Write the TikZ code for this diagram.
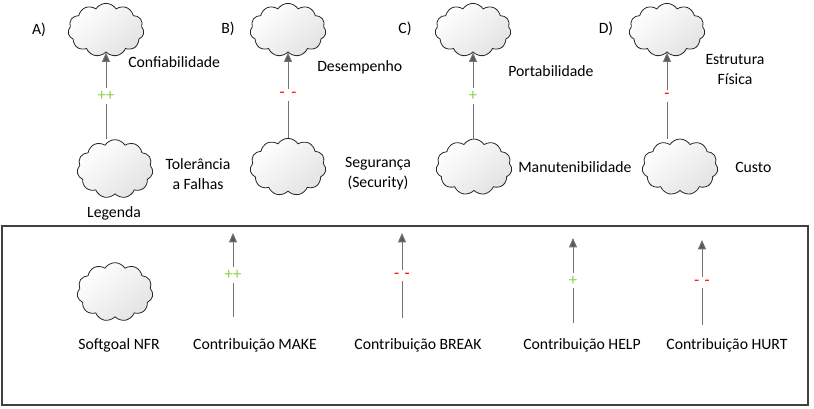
\documentclass[tikz,border=0pt]{standalone}
\usepackage{fontspec}
\setmainfont{Carlito}
\usetikzlibrary{shapes.symbols,arrows.meta}
\definecolor{makeGreen}{HTML}{92D050}
\definecolor{breakRed}{HTML}{FF0000}
\definecolor{arrowGray}{HTML}{595959}

\begin{document}
\begin{tikzpicture}[x=0.75pt, y=-0.75pt,
            font=\fontsize{11.8}{15}\selectfont,
            cloudNode/.style={cloud, cloud puffs=11, cloud puff arc=115, aspect=1.45, draw=black!85, line width=0.6pt,
                minimum width=57pt, minimum height=40pt, inner sep=0pt,
                shading=axis, top color=white, bottom color=gray!22, shading angle=40},
            contrib/.style={draw=arrowGray!85, line width=0.75pt, -{Triangle[width=6pt,length=7pt,fill=arrowGray]}},
            plusLabel/.style={fill=white, text=makeGreen, inner sep=2.5pt, font=\fontsize{12.5}{15}\selectfont},
            minusLabel/.style={fill=white, text=breakRed, inner sep=2.5pt, font=\fontsize{12.5}{15}\selectfont},
            textNode/.style={align=center, inner sep=0pt}]

            \useasboundingbox (0,0) rectangle (814,408);

            \node [textNode](tagA) at (39,30){A)};
            \node [textNode](tagB) at (228,29){B)};
            \node [textNode](tagC) at (405,29){C)};
            \node [textNode](tagD) at (606,29){D)};

            \node [cloudNode](upA) at (106,30){};
            \node [cloudNode, minimum height=44pt](lowA) at (115,169){};
            \node [cloudNode](upB) at (288,30){};
            \node [cloudNode, minimum height=43pt](lowB) at (288,167){};
            \node [cloudNode](upC) at (473,30){};
            \node [cloudNode, minimum height=42pt](lowC) at (474,167){};
            \node [cloudNode](upD) at (667,30){};
            \node [cloudNode, minimum height=42pt](lowD) at (680,167){};

            \node [textNode, anchor=west](confiab) at (128,62){Confiabilidade};
            \node [textNode](toler) at (198,174){Tolerância\\a Falhas};
            \node [textNode](legenda) at (114,213){Legenda};
            \node [textNode, anchor=west](desemp) at (317,67){Desempenho};
            \node [textNode](segur) at (378,174){Segurança\\(Security)};
            \node [textNode, anchor=west](portab) at (508,71){Portabilidade};
            \node [textNode, anchor=west](manut) at (518,167){Manutenibilidade};
            \node [textNode](estrut) at (735,70){Estrutura\\Física};
            \node [textNode, anchor=west](custo) at (735,167){Custo};

            \draw[contrib] (lowA.north -| upA.south) -- node[plusLabel]{++} (upA.south);
            \draw[contrib] (lowB.north -| upB.south) -- node[minusLabel]{-\hspace{5pt}-} (upB.south);
            \draw[contrib] (lowC.north -| upC.south) -- node[plusLabel]{+} (upC.south);
            \draw[contrib] (lowD.north -| upD.south) -- node[minusLabel]{-} (upD.south);

            \draw[black!75, line width=1pt] (2,226) rectangle (808,405);

            \node [cloudNode, minimum height=44pt](nfr) at (115,292){};
            \node [textNode](nfrText) at (119,345){Softgoal NFR};

            \coordinate (makeLow) at (233,317);
            \coordinate (makeUp) at (233,233);
            \coordinate (breakLow) at (402,318);
            \coordinate (breakUp) at (402,233);
            \coordinate (helpLow) at (573,323);
            \coordinate (helpUp) at (573,238);
            \coordinate (hurtLow) at (702,325);
            \coordinate (hurtUp) at (702,240);

            \draw[contrib] (makeLow) -- node[plusLabel]{++} (makeUp);
            \draw[contrib] (breakLow) -- node[minusLabel]{-\hspace{4pt}-} (breakUp);
            \draw[contrib] (helpLow) -- node[plusLabel]{+} (helpUp);
            \draw[contrib] (hurtLow) -- node[minusLabel]{-\hspace{4pt}-} (hurtUp);

            \node [textNode](makeText) at (255,345){Contribuição MAKE};
            \node [textNode](breakText) at (418,345){Contribuição BREAK};
            \node [textNode](helpText) at (582,345){Contribuição HELP};
            \node [textNode](hurtText) at (727,345){Contribuição HURT};
        \end{tikzpicture}
\end{document}
